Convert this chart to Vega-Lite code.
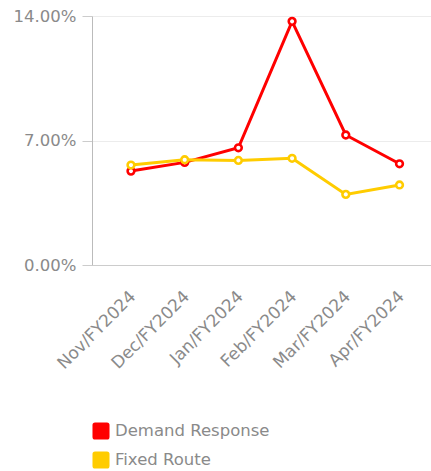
{
  "$schema": "https://vega.github.io/schema/vega-lite/v6.json",
  "autosize": {"type": "none"},
  "padding": {"left": 92, "top": 16, "right": 0, "bottom": 206},
  "width": 339,
  "height": 249,
  "background": "white",
  "config": {
    "view": {"stroke": null},
    "font": "DejaVu Sans",
    "axis": {
      "labelFont": "DejaVu Sans",
      "labelFontSize": 16.5,
      "labelColor": "#8a8a8a",
      "domainColor": "#c4c4c4",
      "tickColor": "#cccccc",
      "gridColor": "#ececec",
      "title": null
    }
  },
  "data": {
    "values": [
      {"month": "Nov/FY2024", "series": "Demand Response", "value": 0.0528},
      {"month": "Dec/FY2024", "series": "Demand Response", "value": 0.0577},
      {"month": "Jan/FY2024", "series": "Demand Response", "value": 0.0659},
      {"month": "Feb/FY2024", "series": "Demand Response", "value": 0.1370},
      {"month": "Mar/FY2024", "series": "Demand Response", "value": 0.0731},
      {"month": "Apr/FY2024", "series": "Demand Response", "value": 0.0569},
      {"month": "Nov/FY2024", "series": "Fixed Route", "value": 0.0562},
      {"month": "Dec/FY2024", "series": "Fixed Route", "value": 0.0592},
      {"month": "Jan/FY2024", "series": "Fixed Route", "value": 0.0588},
      {"month": "Feb/FY2024", "series": "Fixed Route", "value": 0.0600},
      {"month": "Mar/FY2024", "series": "Fixed Route", "value": 0.0397},
      {"month": "Apr/FY2024", "series": "Fixed Route", "value": 0.0450}
    ]
  },
  "encoding": {
    "x": {
      "field": "month",
      "type": "ordinal",
      "sort": ["Nov/FY2024", "Dec/FY2024", "Jan/FY2024", "Feb/FY2024", "Mar/FY2024", "Apr/FY2024"],
      "scale": {"type": "point", "padding": 0.656, "align": 0.553},
      "axis": {"labelAngle": -45, "ticks": false, "grid": false, "labelPadding": 23, "labelOffset": -4, "labelFontSize": 17, "domainColor": "#cccccc"}
    },
    "y": {
      "field": "value",
      "type": "quantitative",
      "scale": {"domain": [0, 0.14], "nice": false},
      "axis": {"values": [0, 0.07, 0.14], "format": ".2%", "tickSize": 10, "labelPadding": 6, "grid": true, "domainColor": "#bbbbbb"}
    },
    "color": {
      "field": "series",
      "type": "nominal",
      "scale": {"domain": ["Demand Response", "Fixed Route"], "range": ["#ff0000", "#ffcc00"]},
      "legend": {
        "title": null,
        "orient": "none",
        "legendX": 0,
        "legendY": 406,
        "padding": 0,
        "symbolType": "M-1,-0.7 Q-1,-1 -0.7,-1 L0.7,-1 Q1,-1 1,-0.7 L1,0.7 Q1,1 0.7,1 L-0.7,1 Q-1,1 -1,0.7 Z",
        "symbolSize": 290,
        "symbolStrokeWidth": 0,
        "labelFont": "DejaVu Sans",
        "labelFontSize": 16.5,
        "labelColor": "#8a8a8a",
        "labelOffset": 5,
        "rowPadding": 11,
        "encode": {
          "symbols": {"update": {"fill": {"scale": "color", "field": "value"}, "opacity": {"value": 1}}}
        }
      }
    }
  },
  "layer": [
    {"mark": {"type": "line", "strokeWidth": 3}},
    {"mark": {"type": "point", "filled": false, "fill": "white", "size": 45, "strokeWidth": 2.6, "opacity": 1}}
  ]
}
